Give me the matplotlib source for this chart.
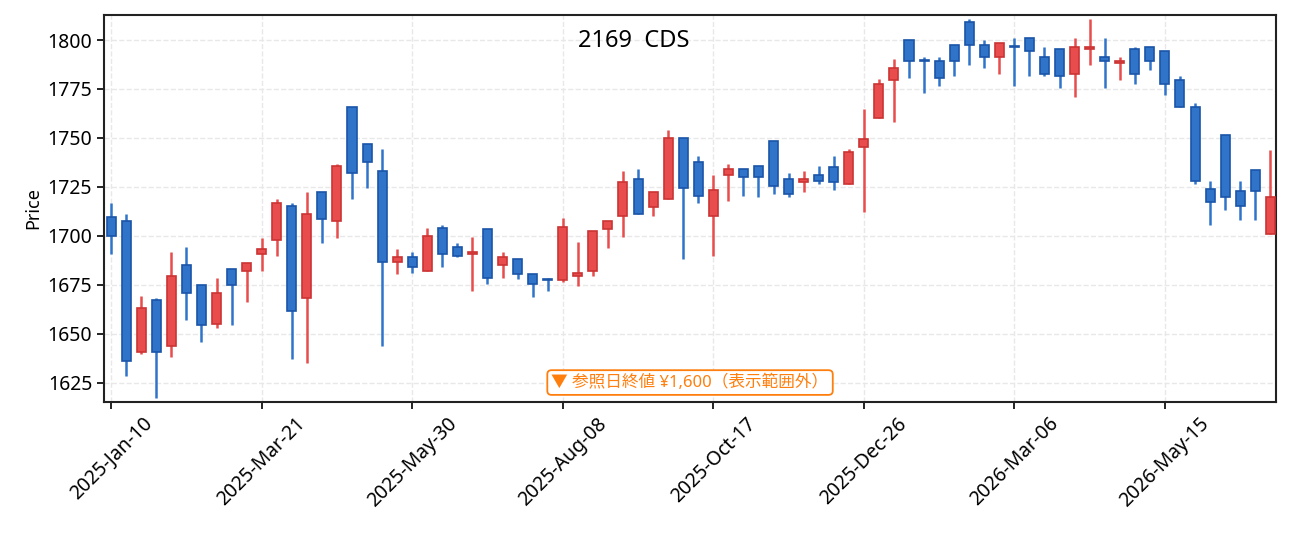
import numpy as np
import pandas as pd
import matplotlib
matplotlib.use("Agg")
import matplotlib.pyplot as plt

plt.rcParams['font.family'] = ['Noto Sans', 'Noto Sans CJK JP', 'DejaVu Sans']

# weekly candles, 2025-01-10 onwards
start_date = "2025-01-10"
opens = [1709.7, 1707.8, 1640.6, 1667.5, 1643.9, 1685.2, 1675.0, 1655.1, 1683.3, 1682.3,
         1691.0, 1698.0, 1715.5, 1668.2, 1722.6, 1707.7, 1766.0, 1747.1, 1733.3, 1686.6,
         1689.0, 1682.1, 1704.3, 1694.6, 1690.8, 1703.7, 1685.0, 1688.4, 1680.8, 1678.1,
         1677.6, 1679.6, 1682.1, 1703.6, 1710.0, 1729.3, 1714.8, 1718.9, 1749.8, 1737.9,
         1710.2, 1731.1, 1734.4, 1735.9, 1748.6, 1729.1, 1727.6, 1731.3, 1735.4, 1726.5,
         1745.6, 1760.2, 1779.6, 1800.0, 1789.6, 1789.5, 1797.6, 1809.4, 1797.6, 1791.2,
         1796.8, 1801.2, 1791.5, 1795.6, 1782.7, 1795.4, 1791.5, 1788.3, 1795.6, 1796.6,
         1794.6, 1779.8, 1766.0, 1724.0, 1751.7, 1723.1, 1733.8, 1700.9]
highs = [1716.8, 1711.2, 1669.4, 1668.2, 1691.7, 1694.2, 1675.0, 1678.6, 1683.3, 1686.4,
         1699.0, 1718.9, 1716.8, 1722.4, 1722.6, 1736.7, 1766.0, 1747.1, 1744.4, 1693.4,
         1691.7, 1703.9, 1705.4, 1696.3, 1699.5, 1703.7, 1691.7, 1688.4, 1680.8, 1678.4,
         1709.2, 1697.0, 1702.7, 1707.5, 1733.0, 1734.2, 1722.6, 1754.3, 1749.8, 1740.8,
         1731.1, 1736.7, 1734.4, 1735.9, 1748.6, 1732.0, 1733.2, 1735.7, 1740.8, 1744.2,
         1764.8, 1780.3, 1790.3, 1800.0, 1791.2, 1791.2, 1797.6, 1810.5, 1799.8, 1798.6,
         1800.9, 1801.2, 1796.3, 1795.6, 1800.9, 1810.5, 1800.9, 1791.2, 1796.3, 1796.6,
         1794.6, 1781.5, 1767.7, 1727.9, 1751.7, 1727.9, 1733.8, 1743.9]
lows = [1691.0, 1628.7, 1639.6, 1617.2, 1638.4, 1657.3, 1646.1, 1653.2, 1654.3, 1666.5,
        1682.3, 1689.8, 1637.2, 1634.9, 1696.6, 1699.0, 1718.9, 1724.5, 1644.0, 1680.6,
        1681.3, 1682.1, 1684.2, 1689.0, 1672.1, 1675.5, 1678.7, 1677.9, 1669.0, 1672.1,
        1676.7, 1674.7, 1679.8, 1694.0, 1699.7, 1711.2, 1710.4, 1718.9, 1688.4, 1717.0,
        1690.0, 1718.0, 1720.6, 1720.1, 1721.6, 1720.1, 1722.6, 1726.7, 1723.6, 1726.5,
        1712.4, 1760.2, 1758.3, 1780.8, 1773.1, 1776.7, 1781.8, 1787.4, 1785.9, 1782.8,
        1776.7, 1781.8, 1781.8, 1775.7, 1771.1, 1787.4, 1775.7, 1779.8, 1777.7, 1784.9,
        1772.1, 1765.8, 1726.4, 1705.8, 1713.4, 1708.3, 1708.3, 1700.9]
closes = [1700.0, 1636.2, 1663.4, 1640.6, 1679.8, 1670.9, 1654.3, 1671.1, 1675.0, 1686.4,
          1693.4, 1717.0, 1661.7, 1711.4, 1708.7, 1735.9, 1732.0, 1737.8, 1686.6, 1689.0,
          1684.0, 1700.2, 1690.8, 1689.6, 1691.8, 1678.6, 1689.5, 1680.6, 1675.5, 1677.6,
          1704.8, 1681.3, 1702.7, 1707.5, 1727.7, 1711.2, 1722.6, 1749.8, 1724.5, 1720.4,
          1723.6, 1734.4, 1730.1, 1730.1, 1725.5, 1721.6, 1729.3, 1728.1, 1727.6, 1743.0,
          1749.7, 1777.7, 1785.9, 1789.3, 1789.1, 1780.6, 1789.3, 1797.4, 1791.2, 1798.6,
          1796.3, 1794.2, 1782.7, 1781.5, 1796.6, 1796.6, 1789.3, 1789.5, 1782.7, 1789.3,
          1777.6, 1765.8, 1728.1, 1717.2, 1719.9, 1715.3, 1722.8, 1719.9]

ticker = "2169  CDS"
ref_note = "▼ 参照日終値 ¥1,600（表示範囲外）"

dates = pd.date_range(start_date, periods=len(opens), freq="7D")
o = np.array(opens)
h = np.array(highs)
l = np.array(lows)
c = np.array(closes)
x = np.arange(len(o))
up = c >= o

up_face, up_edge = "#e84c4c", "#cc3333"
dn_face, dn_edge = "#2f74c9", "#1a55a8"

fig = plt.figure(figsize=(12.91, 5.33), dpi=100)
ax = fig.add_axes([0.0806, 0.246, 0.9078, 0.726])

wick_cols = np.where(up, up_face, dn_face)
ax.vlines(x, l, h, colors=wick_cols, lw=1.8, zorder=2)

body_bottom = np.minimum(o, c)
body_h = np.maximum(np.abs(c - o), 0.4)
ax.bar(x[up], body_h[up], bottom=body_bottom[up], width=0.6,
       color=up_face, edgecolor=up_edge, linewidth=1.2, zorder=3)
ax.bar(x[~up], body_h[~up], bottom=body_bottom[~up], width=0.6,
       color=dn_face, edgecolor=dn_edge, linewidth=1.2, zorder=3)

ax.set_xlim(-0.47, len(o) - 1 + 0.38)
ax.set_ylim(1615.3, 1812.8)
ax.set_yticks(np.arange(1625, 1801, 25))

tick_idx = x[::10]
ax.set_xticks(tick_idx)
ax.set_xticklabels([d.strftime("%Y-%b-%d") for d in dates[tick_idx]], rotation=45)

ax.grid(True, linestyle="--", color="#e8e8e8", lw=1.0, zorder=0)
ax.set_axisbelow(True)
for s in ax.spines.values():
    s.set_color("#222222")
    s.set_linewidth(1.5)
ax.tick_params(axis="both", labelsize=14, length=5, width=1.4, color="#222222")
ax.set_ylabel("Price", fontsize=13)

fig.text(0.491, 0.923, ticker, ha="center", va="center", fontsize=17)

ax.text(0.5, 0.05, ref_note, transform=ax.transAxes, ha="center", va="center",
        fontsize=12, color="#ff7f0e",
        bbox=dict(boxstyle="round,pad=0.25", fc="white", ec="#ff7f0e", lw=1.3))

fig.savefig("out.png", dpi=100)
